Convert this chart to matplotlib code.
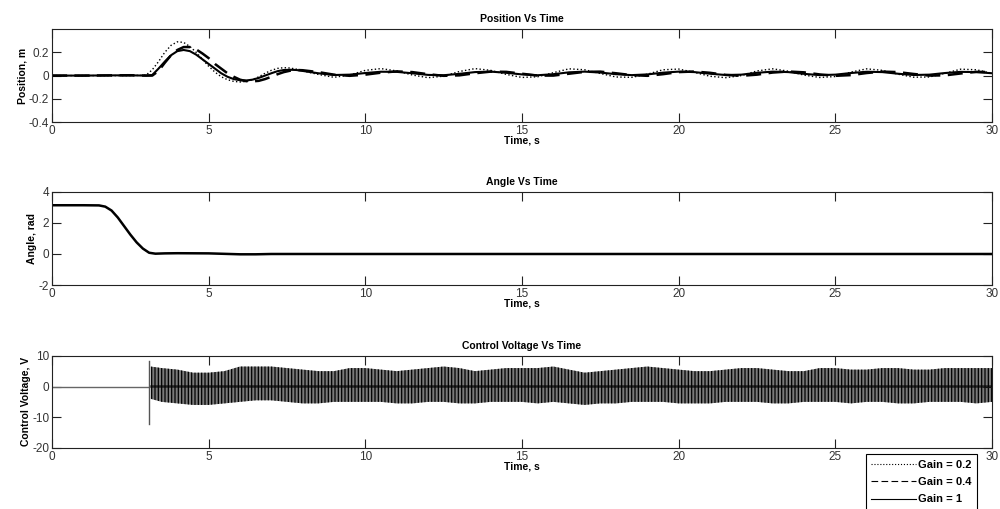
import matplotlib.pyplot as plt
import numpy as np

plt.rcParams['font.family'] = ['Liberation Sans', 'DejaVu Sans']
plt.rcParams['hatch.linewidth'] = 0.9
plt.rcParams['axes.unicode_minus'] = False

# Position response for the three gains
t_pos = [0, 1, 2, 2.5, 3.0, 3.2, 3.4, 3.6, 3.8, 4.0, 4.2, 4.4, 4.6, 4.8, 5.0,
         5.2, 5.4, 5.6, 5.8, 6.0, 6.2, 6.4, 6.6, 6.8, 7.0, 7.2, 7.4, 7.6, 7.8, 8.0,
         8.5, 9.0, 9.5, 10.0, 10.5, 11.0, 11.5, 12.0, 12.5, 13.0, 13.5, 14.0,
         14.5, 15.0, 15.5, 16.0, 16.5, 17.0, 17.5, 18.0, 18.5, 19.0, 19.5, 20.0,
         20.5, 21.0, 21.5, 22.0, 22.5, 23.0, 23.5, 24.0, 24.5, 25.0, 25.5, 26.0,
         26.5, 27.0, 27.5, 28.0, 28.5, 29.0, 29.5, 30.0]

pos_g02 = [0, 0, 0, 0, 0.003, 0.05, 0.12, 0.2, 0.26, 0.29, 0.285, 0.25, 0.2, 0.14, 0.08,
           0.03, -0.01, -0.035, -0.05, -0.055, -0.05, -0.035, -0.01, 0.02, 0.045, 0.062, 0.068, 0.065, 0.055, 0.04,
           0.01, -0.015, 0.005, 0.045, 0.06, 0.04, 0.005, -0.018, -0.005, 0.035, 0.06, 0.045,
           0.01, -0.016, -0.01, 0.025, 0.058, 0.05, 0.018, -0.012, -0.015, 0.012, 0.05, 0.056,
           0.028, -0.006, -0.018, 0.0, 0.04, 0.058, 0.038, 0.004, -0.016, -0.008, 0.03, 0.058,
           0.045, 0.012, -0.014, -0.012, 0.02, 0.055, 0.05, 0.02]

pos_g04 = [0, 0, 0.002, 0.003, 0.0, 0.0, 0.04, 0.11, 0.175, 0.22, 0.245, 0.245, 0.225, 0.19, 0.15,
           0.10, 0.06, 0.02, -0.01, -0.035, -0.048, -0.05, -0.045, -0.03, -0.01, 0.012, 0.03, 0.042, 0.048, 0.046,
           0.03, 0.008, -0.002, 0.008, 0.025, 0.036, 0.03, 0.012, -0.002, 0.002, 0.02, 0.034,
           0.032, 0.016, 0.0, 0.0, 0.016, 0.032, 0.034, 0.02, 0.004, -0.002, 0.012, 0.03,
           0.035, 0.024, 0.006, -0.002, 0.008, 0.026, 0.035, 0.028, 0.01, -0.002, 0.004, 0.022,
           0.034, 0.03, 0.014, 0.0, 0.002, 0.018, 0.032, 0.03]

pos_g1 = [0, 0, 0.002, 0.002, 0.0, 0.005, 0.06, 0.12, 0.175, 0.21, 0.22, 0.21, 0.18, 0.14, 0.10,
          0.06, 0.02, -0.01, -0.03, -0.04, -0.042, -0.035, -0.02, 0.0, 0.02, 0.038, 0.048, 0.05, 0.048, 0.04,
          0.02, 0.005, 0.008, 0.022, 0.033, 0.032, 0.02, 0.006, 0.003, 0.015, 0.03, 0.034,
          0.024, 0.01, 0.003, 0.012, 0.028, 0.034, 0.026, 0.012, 0.004, 0.01, 0.025, 0.034,
          0.03, 0.016, 0.005, 0.008, 0.024, 0.034, 0.03, 0.015, 0.004, 0.008, 0.022, 0.033,
          0.03, 0.016, 0.005, 0.008, 0.022, 0.032, 0.03, 0.02]

# Pendulum angle (the three gains overlap)
t_ang = [0, 1.0, 1.5, 1.7, 1.9, 2.1, 2.3, 2.5, 2.7, 2.9, 3.1, 3.3, 3.6, 4.0, 5.0,
         6.0, 6.5, 7.0, 10, 15, 20, 25, 30]
angle = [3.14, 3.14, 3.13, 3.05, 2.8, 2.35, 1.8, 1.25, 0.75, 0.35, 0.08, 0.02, 0.04, 0.05, 0.04,
         -0.02, -0.02, 0.0, 0.0, 0.0, 0.0, 0.0, 0.0]

# Control voltage: idle before the swing-up, kick, then envelope of the chatter
t_idle = [0, 3.1]
v_idle = [0, 0]
t_kick = [3.1, 3.1]
v_kick = [8.3, -12.2]
t_env = [3.15, 3.5, 4.0, 4.5, 5.0, 5.5, 6.0, 6.5, 7.0, 7.5, 8.0, 8.5, 9.0, 9.5, 10.0,
         10.5, 11.0, 11.5, 12.0, 12.5, 13.0, 13.5, 14.0, 14.5, 15.0, 15.5, 16.0, 16.5,
         17.0, 17.5, 18.0, 18.5, 19.0, 19.5, 20.0, 20.5, 21.0, 21.5, 22.0, 22.5, 23.0,
         23.5, 24.0, 24.5, 25.0, 25.5, 26.0, 26.5, 27.0, 27.5, 28.0, 28.5, 29.0, 29.5, 30.0]
v_upper = [6.5, 6.0, 5.5, 4.5, 4.5, 5.0, 6.5, 6.5, 6.5, 6.0, 5.5, 5.0, 5.0, 6.0, 6.0,
           5.5, 5.0, 5.5, 6.0, 6.5, 6.0, 5.0, 5.5, 6.0, 6.0, 6.0, 6.5, 5.5,
           4.5, 5.0, 5.5, 6.0, 6.5, 6.0, 5.5, 5.0, 5.0, 5.5, 6.0, 6.0, 5.5,
           5.0, 5.0, 6.0, 6.0, 5.5, 5.5, 6.0, 6.0, 5.5, 5.5, 6.0, 6.0, 6.0, 6.0]
v_lower = [-4.0, -5.0, -5.5, -6.0, -6.0, -5.5, -5.0, -4.5, -4.5, -5.0, -5.5, -5.5, -5.0, -5.0, -5.0,
           -5.0, -5.5, -5.5, -5.0, -5.0, -5.5, -5.5, -5.0, -5.0, -5.0, -5.5, -5.0, -5.5,
           -6.0, -5.5, -5.5, -5.0, -5.0, -5.0, -5.5, -5.5, -5.5, -5.0, -5.0, -5.0, -5.5,
           -5.5, -5.0, -5.0, -5.0, -5.5, -5.0, -5.0, -5.5, -5.5, -5.0, -5.0, -5.0, -5.5, -5.0]

gain_labels = ['Gain = 0.2', 'Gain = 0.4', 'Gain = 1']

fig = plt.figure(figsize=(10, 5.09), dpi=100)
ax1 = fig.add_axes([0.052, 0.760, 0.940, 0.183])
ax2 = fig.add_axes([0.052, 0.440, 0.940, 0.183])
ax3 = fig.add_axes([0.052, 0.120, 0.940, 0.181])


def style(ax, title, ylabel, ylim, yticks, yticklabels):
    ax.set_xlim(0, 30)
    ax.set_ylim(*ylim)
    ax.set_xticks([0, 5, 10, 15, 20, 25, 30])
    ax.set_yticks(yticks)
    ax.set_yticklabels(yticklabels)
    ax.tick_params(direction='in', top=True, right=True, length=6.5, width=0.8,
                   labelsize=8.5, labelcolor='#333333', color='#222222', pad=2)
    for s in ax.spines.values():
        s.set_color('#222222')
        s.set_linewidth(0.8)
    ax.set_title(title, fontsize=7.5, fontweight='bold', pad=5)
    ax.set_ylabel(ylabel, fontsize=7.5, fontweight='bold', labelpad=1)
    ax.set_xlabel('Time, s', fontsize=7.5, fontweight='bold', labelpad=-1)


ax1.plot(t_pos, pos_g02, color='black', linestyle=':', linewidth=1.0, label=gain_labels[0])
ax1.plot(t_pos, pos_g04, color='black', linestyle=(0, (6, 3)), linewidth=1.8, label=gain_labels[1])
ax1.plot(t_pos, pos_g1, color='black', linestyle='-', linewidth=1.5, label=gain_labels[2])
style(ax1, 'Position Vs Time', 'Position, m', (-0.4, 0.4), [-0.4, -0.2, 0, 0.2],
      ['-0.4', '-0.2', '0', '0.2'])

ax2.plot(t_ang, angle, color='black', linewidth=1.8)
style(ax2, 'Angle Vs Time', 'Angle, rad', (-2, 4), [-2, 0, 2, 4], ['-2', '0', '2', '4'])

ax3.plot(t_idle, v_idle, color='#666666', linewidth=1.0)
ax3.plot(t_kick, v_kick, color='#555555', linewidth=1.0)
ax3.fill_between(t_env, v_lower, v_upper, facecolor='#7a7a7a', edgecolor='black',
                 hatch='|||||', linewidth=0)
ax3.plot([t_env[0], t_env[-1]], [0.3, 0.3], color='black', linewidth=1.8, alpha=0.7)
style(ax3, 'Control Voltage Vs Time', 'Control Voltage, V', (-20, 10), [-20, -10, 0, 10],
      ['-20', '-10', '0', '10'])

handles, labels = ax1.get_legend_handles_labels()
leg = fig.legend(handles, labels, loc='lower right', bbox_to_anchor=(0.977, -0.002),
                 fancybox=False, edgecolor='black', framealpha=1,
                 prop={'size': 8, 'weight': 'bold'}, handlelength=4.0,
                 handletextpad=0.2, borderpad=0.5, labelspacing=0.65, borderaxespad=0)
leg.get_frame().set_linewidth(0.8)
for line in leg.get_lines():
    line.set_linewidth(0.8)

fig.savefig('out.png', dpi=100)
